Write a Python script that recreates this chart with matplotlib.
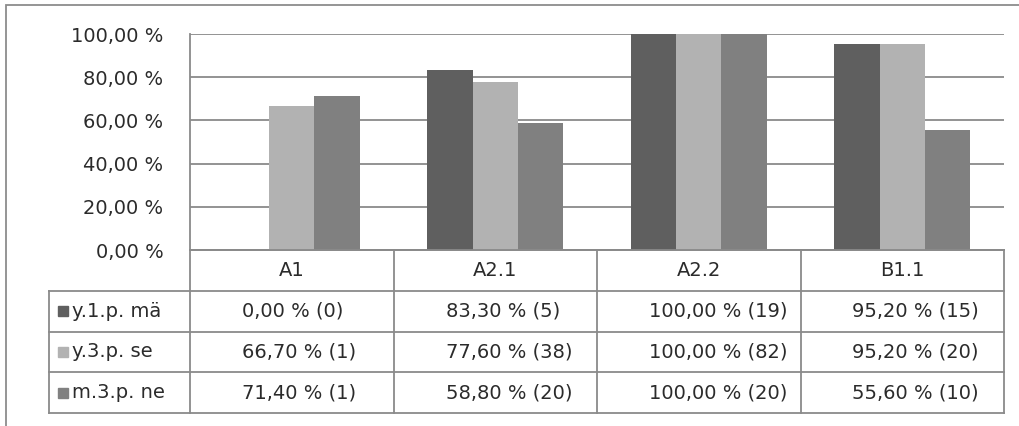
import numpy as np
import matplotlib
matplotlib.use("Agg")
import matplotlib.pyplot as plt
from matplotlib.patches import Rectangle

# levels on the x axis, one bar group each
levels = ["A1", "A2.1", "A2.2", "B1.1"]
series = ["y.1.p. mä", "y.3.p. se", "m.3.p. ne"]

# share of correct forms (%) and number of cases behind each share
y1p_ma = [0.0, 83.3, 100.0, 95.2]
y3p_se = [66.7, 77.6, 100.0, 95.2]
m3p_ne = [71.4, 58.8, 100.0, 55.6]
n_y1p_ma = [0, 5, 19, 15]
n_y3p_se = [1, 38, 82, 20]
n_m3p_ne = [1, 20, 20, 10]

yticks = [0, 20, 40, 60, 80, 100]

values = [y1p_ma, y3p_se, m3p_ne]
counts = [n_y1p_ma, n_y3p_se, n_m3p_ne]
colors = ["#5f5f5f", "#b2b2b2", "#808080"]

W, H = 1020, 426
TXT = "#2b2b2b"
LINE = "#8a8a8a"
FS = 14

plt.rcParams["font.family"] = ["DejaVu Sans"]

fig = plt.figure(figsize=(W / 100, H / 100), dpi=100)
fig.patch.set_facecolor("white")

# plot area in pixels
left, right, top, base = 190, 1004, 34, 250
tab_left, tab_bottom = 49, 413
col_px = (right - left) / len(levels)

ax = fig.add_axes([left / W, (H - base) / H, (right - left) / W, (base - top) / H])
x = np.arange(len(levels))
bw = 1 / 4.5  # 150 % gap between groups
for k, (vals, c) in enumerate(zip(values, colors)):
    ax.bar(x + (k - 1) * bw, np.array(vals) / 100, width=bw, color=c, zorder=3)

ax.set_xlim(-0.5, len(levels) - 0.5)
ax.set_ylim(0, 1)
ax.set_yticks([t / 100 for t in yticks])
ax.set_yticklabels([f"{t:.2f}".replace(".", ",") + " %" for t in yticks],
                   fontsize=FS, color=TXT)
ax.tick_params(axis="y", length=0, pad=19)
ax.set_xticks([])
ax.yaxis.grid(True, color=LINE, linewidth=1.3, zorder=0)
for s in ("top", "right"):
    ax.spines[s].set_visible(False)
for s in ("left", "bottom"):
    ax.spines[s].set_color(LINE)
    ax.spines[s].set_linewidth(1.3)

# data table under the bars, sharing the category columns
tax = fig.add_axes([tab_left / W, (H - tab_bottom) / H,
                    (right - tab_left) / W, (tab_bottom - base) / H])
xmin = -0.5 - (left - tab_left) / col_px
xmax = len(levels) - 0.5
nrows = len(series) + 1
tax.set_xlim(xmin, xmax)
tax.set_ylim(nrows, 0)
tax.axis("off")

lw = 1.3
for b in np.arange(-0.5, len(levels), 1.0):
    tax.plot([b, b], [0, nrows], color=LINE, lw=lw, clip_on=False)
tax.plot([xmin, xmin], [1, nrows], color=LINE, lw=lw, clip_on=False)
tax.plot([-0.5, xmax], [0, 0], color=LINE, lw=lw, clip_on=False)
for r in range(1, nrows + 1):
    tax.plot([xmin, xmax], [r, r], color=LINE, lw=lw, clip_on=False)

for i, lev in enumerate(levels):
    tax.text(i, 0.5, lev, ha="center", va="center", fontsize=FS, color=TXT)

for r, (name, vals, ns, c) in enumerate(zip(series, values, counts, colors), start=1):
    yc = r + 0.5
    tax.add_patch(Rectangle((xmin + 9 / col_px, yc - 0.125), 10 / col_px, 0.25,
                            color=c, clip_on=False))
    tax.text(xmin + 23 / col_px, yc, name, ha="left", va="center",
             fontsize=FS, color=TXT)
    for i, (v, n) in enumerate(zip(vals, ns)):
        label = f"{v:.2f}".replace(".", ",") + f" % ({n})"
        tax.text(i - 0.5 + 52 / col_px, yc, label, ha="left", va="center",
                 fontsize=FS, color=TXT)

# chart frame
fig.patches.append(Rectangle((6 / W, -0.1), 2, (H - 5) / H + 0.1,
                             transform=fig.transFigure, fill=False,
                             ec="#8c8c8c", lw=1.3))

fig.savefig("out.png", dpi=100, facecolor="white")
